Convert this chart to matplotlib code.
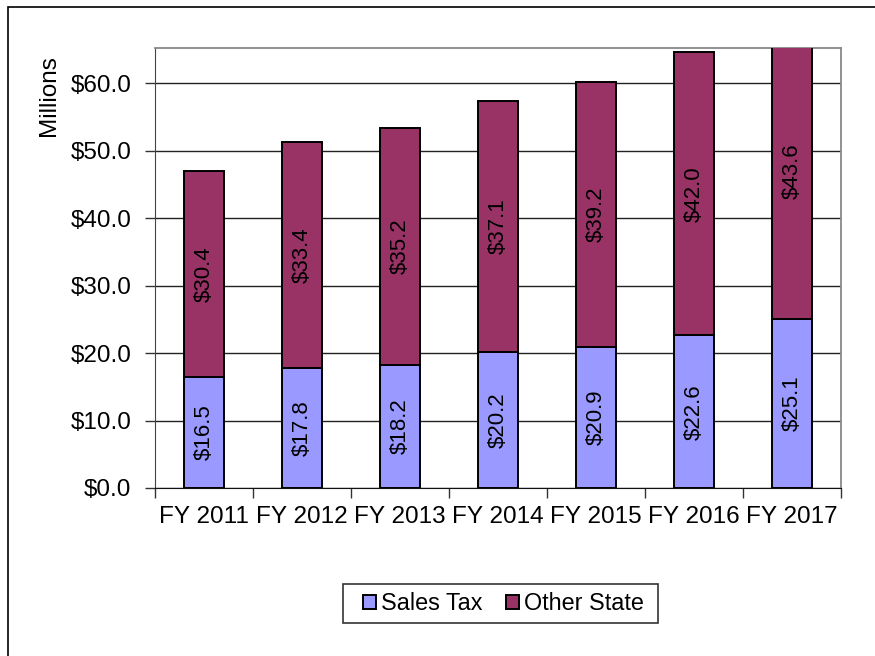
import matplotlib
matplotlib.use("Agg")
import matplotlib.pyplot as plt
from matplotlib.patches import Rectangle
from matplotlib.ticker import FixedLocator, NullFormatter
import numpy as np

plt.rcParams['font.family'] = ['Liberation Sans', 'DejaVu Sans']

years = ["FY 2011", "FY 2012", "FY 2013", "FY 2014", "FY 2015", "FY 2016", "FY 2017"]
sales_tax = [16.5, 17.8, 18.2, 20.2, 20.9, 22.6, 25.1]
other_state = [30.4, 33.4, 35.2, 37.1, 39.2, 42.0, 43.6]
y_ticks = [0, 10, 20, 30, 40, 50, 60]

W, H = 875, 656
fig = plt.figure(figsize=(W / 100, H / 100), dpi=100)
ax = fig.add_axes([155 / W, 1 - 488 / H, (841 - 155) / W, (488 - 48) / H])

# outer chart-area border (only top and left edges fall inside the image)
fig.patches.append(Rectangle((8 / W, -0.05), 1.2, 1.05 - 7 / H,
                             transform=fig.transFigure, fill=False,
                             edgecolor="black", linewidth=1.2))

x = np.arange(len(years))
bw = 0.41
c_sales = "#9999FF"
c_other = "#993366"
fs = 17.5

b1 = ax.bar(x, sales_tax, bw, color=c_sales, edgecolor="black", linewidth=1.4,
            label="Sales Tax", zorder=3)
b2 = ax.bar(x, other_state, bw, bottom=sales_tax, color=c_other, edgecolor="black",
            linewidth=1.4, label="Other State", zorder=3)

for xi, s, o in zip(x, sales_tax, other_state):
    ax.text(xi, s / 2, f"${s:.1f}", rotation=90, ha="center", va="center",
            fontsize=16, zorder=4)
    ax.text(xi, s + o / 2, f"${o:.1f}", rotation=90, ha="center", va="center",
            fontsize=16, zorder=4)

ax.set_xlim(-0.5, len(years) - 0.5)
ax.set_ylim(0, 65.2)
ax.set_yticks(y_ticks)
ax.set_yticklabels([f"${v:.1f}" for v in y_ticks], fontsize=fs)
ax.yaxis.grid(True, color="#222222", linewidth=1.0, zorder=0)

ax.set_xticks(x)
ax.set_xticklabels(years, fontsize=fs)
ax.tick_params(axis="x", which="major", length=0, pad=13)
ax.xaxis.set_minor_locator(FixedLocator(np.arange(-0.5, len(years), 1.0)))
ax.xaxis.set_minor_formatter(NullFormatter())
ax.tick_params(axis="x", which="minor", length=7, width=1.0, color="#333333")
ax.tick_params(axis="y", length=7, width=1.0, color="#333333", pad=10)

for side in ("top", "right"):
    ax.spines[side].set_color("#888888")
    ax.spines[side].set_linewidth(1.3)
ax.spines["left"].set_color("#444444")
ax.spines["bottom"].set_color("#111111")

ax.set_ylabel("Millions", fontsize=fs)
ax.yaxis.set_label_coords(-0.1385, 0.891)

# legend box drawn separately so the entries keep Excel-like side padding
fig.patches.append(Rectangle((343 / W, 1 - 623 / H), (658 - 343) / W, (623 - 584) / H,
                             transform=fig.transFigure, fill=True, facecolor="white",
                             edgecolor="#333333", linewidth=1.2, zorder=1))
leg = fig.legend(handles=[b1, b2], loc="center", bbox_to_anchor=(503.5 / W, 1 - 603.5 / H),
                 ncol=2, fontsize=16.8, frameon=False,
                 handlelength=0.57, handleheight=0.57,
                 handletextpad=0.22, columnspacing=1.0, borderpad=0.0,
                 borderaxespad=0)
leg.set_zorder(2)

fig.savefig("out.png", dpi=100)
